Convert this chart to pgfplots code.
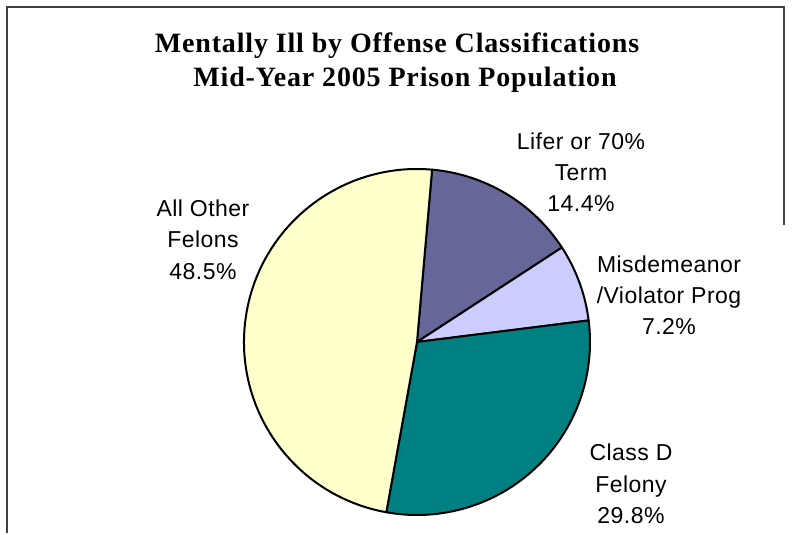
\documentclass[border=0pt]{standalone}
\usepackage{pgfplots}
\pgfplotsset{compat=1.18}
\usepackage{pgfplotstable}
\usepackage{fontspec}
\setmainfont{Liberation Sans}
\newfontfamily\lab[LetterSpace=2]{Liberation Sans}
\newfontfamily\ttl[LetterSpace=3]{Liberation Serif}
\definecolor{cLifer}{HTML}{666699}
\definecolor{cMisd}{HTML}{CCCCFF}
\definecolor{cClassD}{HTML}{008080}
\definecolor{cOther}{HTML}{FFFFCC}
\pgfplotstableread{
label value
Lifer 14.4
Misd 7.2
ClassD 29.8
Other 48.5
}\pietable
\begin{document}
\begin{tikzpicture}
\pgfplotstablegetelem{0}{value}\of\pietable\let\vA\pgfplotsretval
\pgfplotstablegetelem{1}{value}\of\pietable\let\vB\pgfplotsretval
\pgfplotstablegetelem{2}{value}\of\pietable\let\vC\pgfplotsretval
\pgfplotstablegetelem{3}{value}\of\pietable\let\vD\pgfplotsretval
\pgfmathsetmacro\tot{\vA+\vB+\vC+\vD}
\pgfmathsetmacro\aO{85}
\pgfmathsetmacro\aA{\aO-360*\vA/\tot}
\pgfmathsetmacro\aB{\aA-360*\vB/\tot}
\pgfmathsetmacro\aC{\aB-360*\vC/\tot}
\pgfmathsetmacro\aD{\aO-360}
\begin{axis}[width=793pt,height=533pt,scale only axis,
  xmin=0,xmax=793,ymin=0,ymax=533,y dir=reverse,hide axis,clip=false]
\fill[white] (axis cs:0,0) rectangle (axis cs:793,533);
\draw[line width=2.2pt, black!75] (axis cs:7,533) -- (axis cs:7,7) -- (axis cs:784,7) -- (axis cs:784,225);
\filldraw[fill=cLifer, draw=black, line width=2pt, line join=round] (axis cs:417,342) -- ++(\aO:173pt) arc[start angle=\aO, end angle=\aA, radius=173pt] -- cycle;
\filldraw[fill=cMisd, draw=black, line width=2pt, line join=round] (axis cs:417,342) -- ++(\aA:173pt) arc[start angle=\aA, end angle=\aB, radius=173pt] -- cycle;
\filldraw[fill=cClassD, draw=black, line width=2pt, line join=round] (axis cs:417,342) -- ++(\aB:173pt) arc[start angle=\aB, end angle=\aC, radius=173pt] -- cycle;
\filldraw[fill=cOther, draw=black, line width=2pt, line join=round] (axis cs:417,342) -- ++(\aC:173pt) arc[start angle=\aC, end angle=\aD, radius=173pt] -- cycle;
% title
\node[anchor=base, font=\ttl\bfseries\fontsize{28}{32}\selectfont] at (axis cs:397,53) {Mentally Ill by Offense Classifications};
\node[anchor=base, font=\ttl\bfseries\fontsize{28}{32}\selectfont] at (axis cs:405,87) {Mid-Year 2005 Prison Population};
% labels
\tikzset{lb/.style={anchor=base, inner sep=0pt, font=\lab\fontsize{23}{26}\selectfont}}
\node[lb] at (axis cs:581,150) {Lifer or 70\%};
\node[lb] at (axis cs:581,181) {Term};
\node[lb] at (axis cs:581,212) {14.4\%};
\node[lb] at (axis cs:669,273) {Misdemeanor};
\node[lb] at (axis cs:669,304) {/Violator Prog};
\node[lb] at (axis cs:669,335) {7.2\%};
\node[lb] at (axis cs:631,461) {Class D};
\node[lb] at (axis cs:631,493) {Felony};
\node[lb] at (axis cs:631,524) {29.8\%};
\node[lb] at (axis cs:203,217) {All Other};
\node[lb] at (axis cs:203,248) {Felons};
\node[lb] at (axis cs:203,280) {48.5\%};
\end{axis}
\end{tikzpicture}
\end{document}
